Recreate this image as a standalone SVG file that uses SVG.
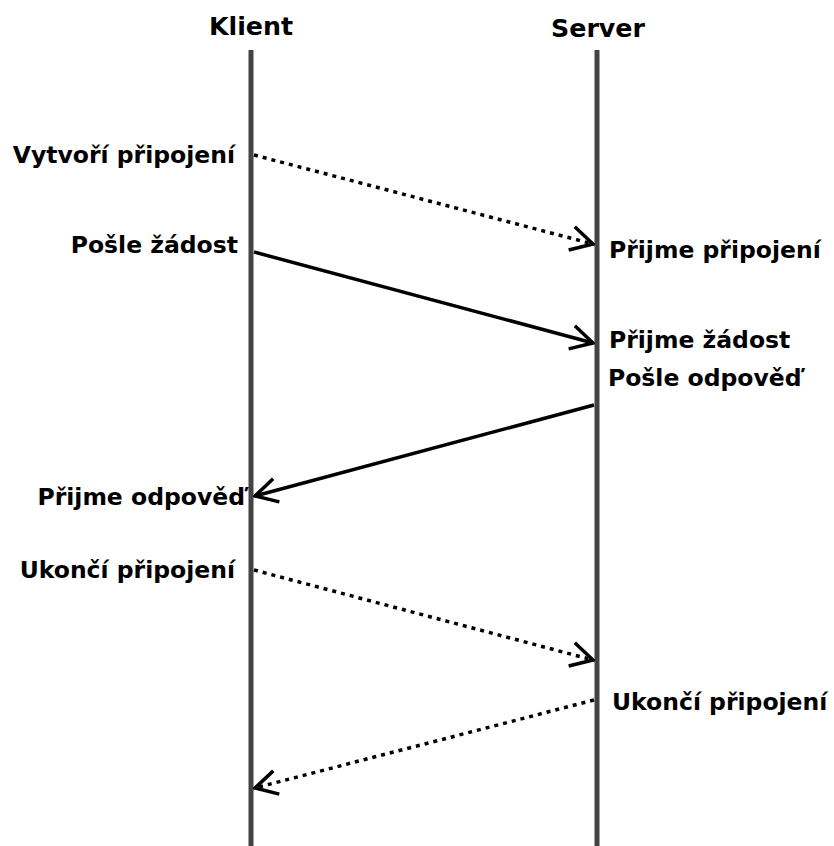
<svg xmlns="http://www.w3.org/2000/svg" width="834" height="846" viewBox="0 0 834 846">
  <style>
    .lbl { font-family: "DejaVu Sans", "Liberation Sans", sans-serif; font-weight: bold; font-size: 23.5px; fill: #000; }
    .head { font-family: "DejaVu Sans", "Liberation Sans", sans-serif; font-weight: bold; font-size: 25.3px; fill: #000; text-anchor: middle; }
    .life { stroke: #444; stroke-width: 5; fill: none; }
    .msg { stroke: #000; stroke-width: 3.5; fill: none; }
    .dot { stroke-dasharray: 4 5; }
  </style>
  <defs>
    <marker id="open" viewBox="0 0 30 30" refX="28" refY="15" markerWidth="30" markerHeight="30" markerUnits="userSpaceOnUse" orient="auto">
      <path d="M6,3 L28,15 L6,27" fill="none" stroke="#000" stroke-width="3.5" stroke-linecap="butt"/>
    </marker>
  </defs>

  <g id="klient">
    <text class="head" x="251" y="35">Klient</text>
    <line class="life" x1="251" y1="50" x2="251" y2="846"/>
  </g>
  <g id="server">
    <text class="head" x="598" y="37">Server</text>
    <line class="life" x1="597" y1="50" x2="597" y2="846"/>
  </g>

  <g id="labels">
    <text class="lbl" x="235" y="163" text-anchor="end">Vytvoří připojení</text>
    <text class="lbl" x="238" y="253" text-anchor="end">Pošle žádost</text>
    <text class="lbl" x="609" y="258">Přijme připojení</text>
    <text class="lbl" x="609" y="348">Přijme žádost</text>
    <text class="lbl" x="608" y="386">Pošle odpověď</text>
    <text class="lbl" x="245" y="505" text-anchor="end">Přijme odpověď</text>
    <text class="lbl" x="235" y="578" text-anchor="end">Ukončí připojení</text>
    <text class="lbl" x="612" y="710">Ukončí připojení</text>
  </g>

  <g id="connectors">
    <line class="msg dot" x1="254" y1="155" x2="593" y2="244" marker-end="url(#open)"/>
    <line class="msg" x1="254" y1="252" x2="593" y2="343" marker-end="url(#open)"/>
    <line class="msg" x1="594" y1="405" x2="255" y2="496" marker-end="url(#open)"/>
    <line class="msg dot" x1="254" y1="570" x2="593" y2="660" marker-end="url(#open)"/>
    <line class="msg dot" x1="594" y1="700" x2="255" y2="788" marker-end="url(#open)"/>
  </g>
</svg>
